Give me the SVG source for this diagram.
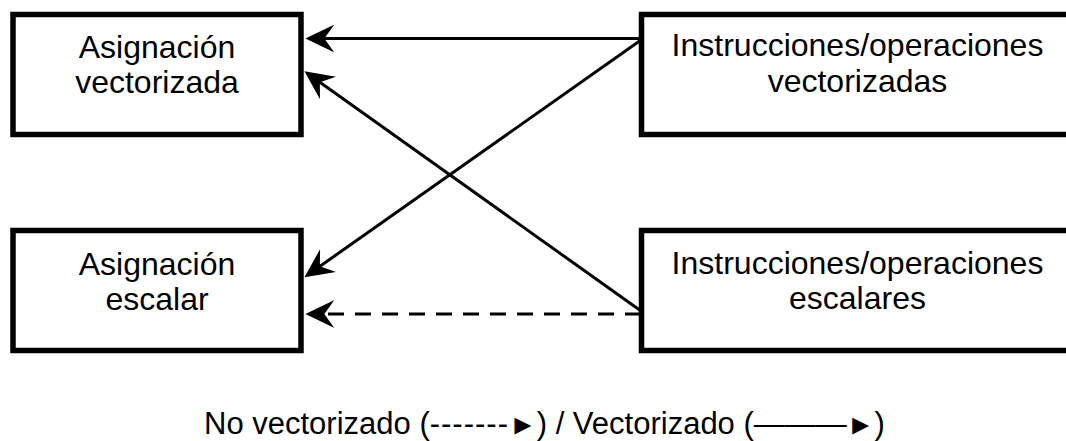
<svg xmlns="http://www.w3.org/2000/svg" width="1066" height="441" viewBox="0 0 1066 441">
<style>
.box{fill:#fff;stroke:#000;stroke-width:5.5}
.lbl{font-family:"Liberation Sans",Arial,sans-serif;font-size:32px;fill:#000;text-anchor:middle}
.leg{font-family:"Liberation Sans",Arial,"DejaVu Sans",sans-serif;font-size:31px;fill:#000}
.tri{font-size:28px}
.edge{fill:none;stroke:#000;stroke-width:3;marker-end:url(#ah)}
.dash{stroke-dasharray:16 11}
</style>
<defs>
<marker id="ah" markerUnits="userSpaceOnUse" markerWidth="30" markerHeight="30" viewBox="0 0 27 26" refX="21" refY="13" orient="auto">
<path d="M26,13 L0,0.5 L9,13 L0,25.5 Z" fill="#000"/>
</marker>
</defs>
<rect width="1066" height="441" fill="#fff"/>
<g id="node-asig-vect">
<rect class="box" x="13" y="14.5" width="288" height="120"/>
<text class="lbl" x="157" y="58">Asignación</text>
<text class="lbl" x="157" y="93">vectorizada</text>
</g>
<g id="node-instr-vect">
<rect class="box" x="641.5" y="14.5" width="440" height="120"/>
<text class="lbl" x="857.5" y="56">Instrucciones/operaciones</text>
<text class="lbl" x="857.5" y="92">vectorizadas</text>
</g>
<g id="node-asig-esc">
<rect class="box" x="13" y="230.5" width="288" height="120"/>
<text class="lbl" x="157" y="275">Asignación</text>
<text class="lbl" x="157" y="310">escalar</text>
</g>
<g id="node-instr-esc">
<rect class="box" x="641.5" y="230.5" width="440" height="120"/>
<text class="lbl" x="857.5" y="274">Instrucciones/operaciones</text>
<text class="lbl" x="857.5" y="309">escalares</text>
</g>
<g id="connectors">
<line class="edge" x1="641" y1="38.5" x2="311" y2="38.5"/>
<line class="edge" x1="641" y1="40" x2="309" y2="274"/>
<line class="edge" x1="641" y1="311" x2="309" y2="74.5"/>
<line class="edge dash" x1="641" y1="314" x2="311" y2="314"/>
</g>
<text class="leg" x="204" y="434">No vectorizado (<tspan letter-spacing="1">-------</tspan><tspan class="tri">►</tspan>) / Vectorizado (———<tspan class="tri">►</tspan>)</text>
</svg>
